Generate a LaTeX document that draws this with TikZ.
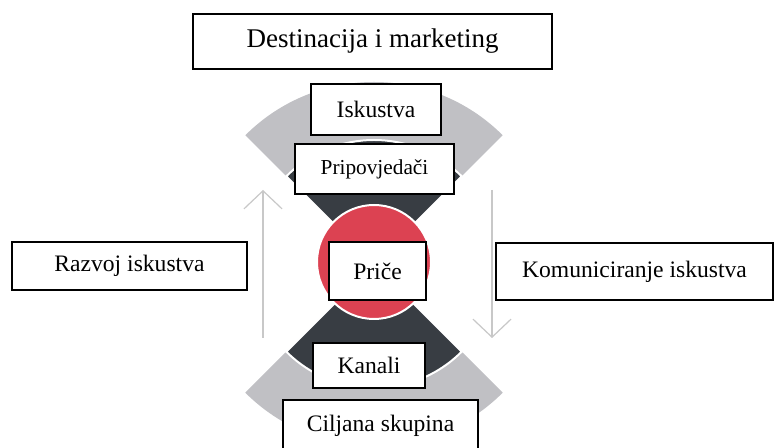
\documentclass[tikz,border=0pt]{standalone}
\usepackage{fontspec}
\setmainfont{Liberation Serif}
\usetikzlibrary{arrows.meta}
\definecolor{wedgegray}{RGB}{192,192,196}
\definecolor{wedgedark}{RGB}{56,61,67}
\definecolor{corered}{RGB}{220,66,82}
\definecolor{arrowgray}{RGB}{200,200,200}
\tikzset{
  labelbox/.style={draw=black, fill=white, line width=1.5bp, inner sep=0pt,
    font=\fontsize{23.6bp}{28bp}\selectfont, align=center},
  flowarrow/.style={draw=arrowgray, line width=1.2bp,
    -{Straight Barb[length=18bp,width=38bp,line width=1.2bp]}},
}
\begin{document}
\begin{tikzpicture}[x=1bp,y=1bp]
\clip (0,0) rectangle (775,448);
\fill[white] (0,0) rectangle (775,448);
% wedges
\fill[wedgegray] (374,184) -- ++(45:182) arc[start angle=45,end angle=135,radius=182] -- cycle;
\fill[wedgegray] (374,184) -- ++(225:182) arc[start angle=225,end angle=315,radius=182] -- cycle;
\filldraw[fill=wedgedark, draw=white, line width=2bp] (374,184) -- ++(45:124) arc[start angle=45,end angle=135,radius=124] -- cycle;
\filldraw[fill=wedgedark, draw=white, line width=2bp] (374,184) -- ++(225:124) arc[start angle=225,end angle=315,radius=124] -- cycle;
\filldraw[fill=corered, draw=white, line width=2bp] (374,186) circle[radius=57];
% arrows
\coordinate (upS) at (263,110);
\coordinate (upE) at (263,258);
\coordinate (dnS) at (492,258);
\coordinate (dnE) at (492,110);
\draw[flowarrow] (upS) -- (upE);
\draw[flowarrow] (dnS) -- (dnE);
% boxes
\node[labelbox, minimum width=359bp, minimum height=55bp, font=\fontsize{27bp}{32bp}\selectfont] (dest) at (372.5,406.5) {Destinacija i marketing};
\node[labelbox, minimum width=130bp, minimum height=51bp] (isk) at (376,338.5) {Iskustva};
\node[labelbox, minimum width=159bp, minimum height=50bp, font=\fontsize{21.3bp}{25bp}\selectfont] (prip) at (374.5,279) {Pripovjedači};
\node[labelbox, minimum width=97bp, minimum height=58bp] (price) at (377.5,177) {Priče};
\node[labelbox, minimum width=112bp, minimum height=45bp] (kanali) at (369,82.5) {Kanali};
\node[labelbox, minimum width=195bp, minimum height=52bp] (cilj) at (380.5,22) {Ciljana skupina};
\node[labelbox, minimum width=235bp, minimum height=48bp] (razvoj) at (129.5,182) {Razvoj iskustva};
\node[labelbox, minimum width=277bp, minimum height=57bp] (komun) at (634.5,176.5) {Komuniciranje iskustva};
\end{tikzpicture}
\end{document}
